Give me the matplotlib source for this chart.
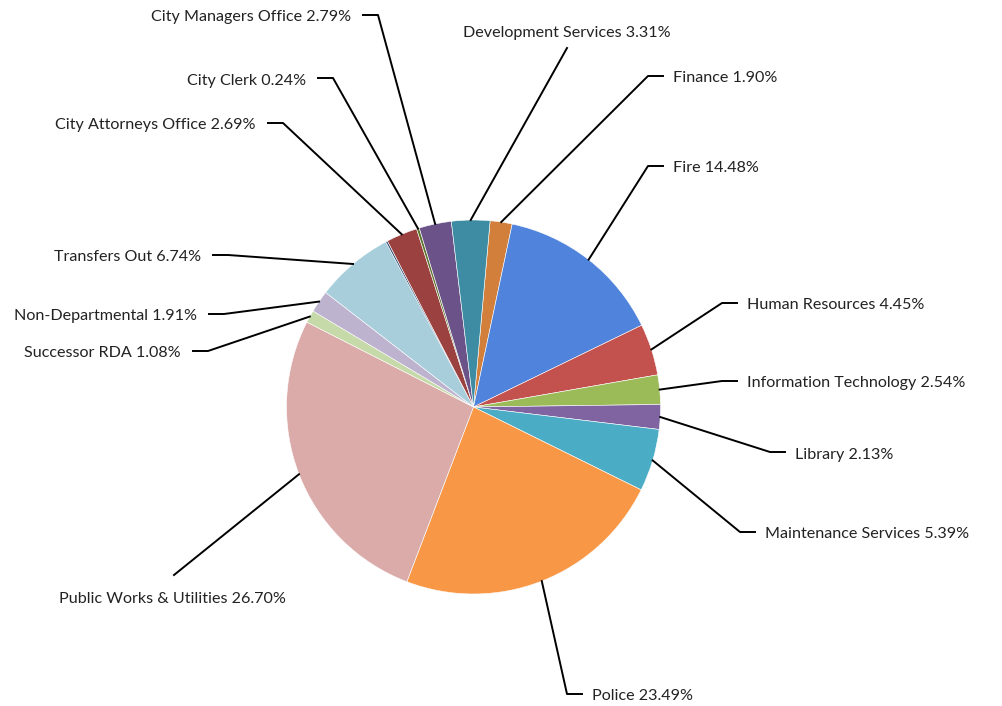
import numpy as np
import matplotlib
matplotlib.use("Agg")
import matplotlib.pyplot as plt

plt.rcParams['font.family'] = ['Lato', 'DejaVu Sans']

# slices in clockwise order, starting just right of 12 o'clock
departments = [
    "Finance", "Fire", "Human Resources", "Information Technology", "Library",
    "Maintenance Services", "Police", "Public Works & Utilities", "Successor RDA",
    "Non-Departmental", "Transfers Out", "", "City Attorneys Office",
    "City Clerk", "City Managers Office", "Development Services",
]
shares = [1.90, 14.48, 4.45, 2.54, 2.13, 5.39, 23.49, 26.70, 1.08,
          1.91, 6.74, 0.16, 2.69, 0.24, 2.79, 3.31]
colors = ["#D17F3A", "#5083DB", "#C3514E", "#9BBB59", "#8064A2", "#4BACC6",
          "#F89846", "#DBABAA", "#C6D9A8", "#BEB3CF", "#A8CEDC", "#2C4D75",
          "#9B413F", "#5F7530", "#6B5389", "#3D8CA3"]

W, H = 1003, 706
CX, CY, R = 473.5, 407, 187
START = 90 - 5.1   # degrees, matplotlib convention

# label layout: elbow point (pixel coords, y down) and which side the text sits
layout = {
    "Finance": (648, 76, "right"),
    "Fire": (648, 166, "right"),
    "Human Resources": (722, 303, "right"),
    "Information Technology": (722, 381, "right"),
    "Library": (770, 452, "right"),
    "Maintenance Services": (740, 532, "right"),
    "Police": (567, 694, "right"),
    "Public Works & Utilities": (174, 575, "below"),
    "Successor RDA": (208, 351, "left"),
    "Non-Departmental": (224, 314, "left"),
    "Transfers Out": (228, 255, "left"),
    "City Attorneys Office": (283, 123, "left"),
    "City Clerk": (333, 78, "left"),
    "City Managers Office": (378, 15, "left"),
    "Development Services": (567, 48, "above"),
}

fig = plt.figure(figsize=(W / 100, H / 100), dpi=100)
ax = fig.add_axes([0, 0, 1, 1])

wedges, _ = ax.pie(shares, colors=colors, startangle=START, counterclock=False,
                   center=(CX, H - CY), radius=R,
                   wedgeprops=dict(edgecolor="white", linewidth=0.4))
ax.set_xlim(0, W)
ax.set_ylim(0, H)
ax.set_aspect("equal")
ax.axis("off")

fs = 11.6
lw = 1.4
dy = -2.5   # text sits a touch below its connector
for w, name, val in zip(wedges, departments, shares):
    if not name:
        continue
    mid = np.deg2rad((w.theta1 + w.theta2) / 2)
    px = CX + R * np.cos(mid)
    py = (H - CY) + R * np.sin(mid)
    ex, ey, side = layout[name]
    ey = H - ey
    label = f"{name} {val:.2f}%"
    if side == "right":
        ax.plot([px, ex, ex + 15], [py, ey, ey], color="black", lw=lw)
        ax.text(ex + 25, ey + dy, label, ha="left", va="center", fontsize=fs, color="#222222")
    elif side == "left":
        ax.plot([px, ex, ex - 15], [py, ey, ey], color="black", lw=lw)
        ax.text(ex - 27, ey + dy, label, ha="right", va="center", fontsize=fs, color="#222222")
    elif side == "above":
        ax.plot([px, ex], [py, ey], color="black", lw=lw)
        ax.text(ex, ey + 8, label, ha="center", va="bottom", fontsize=fs, color="#222222")
    else:
        ax.plot([px, ex], [py, ey], color="black", lw=lw)
        ax.text(ex - 2, ey - 17, label, ha="center", va="top", fontsize=fs, color="#222222")

fig.savefig("out.png", dpi=100)
